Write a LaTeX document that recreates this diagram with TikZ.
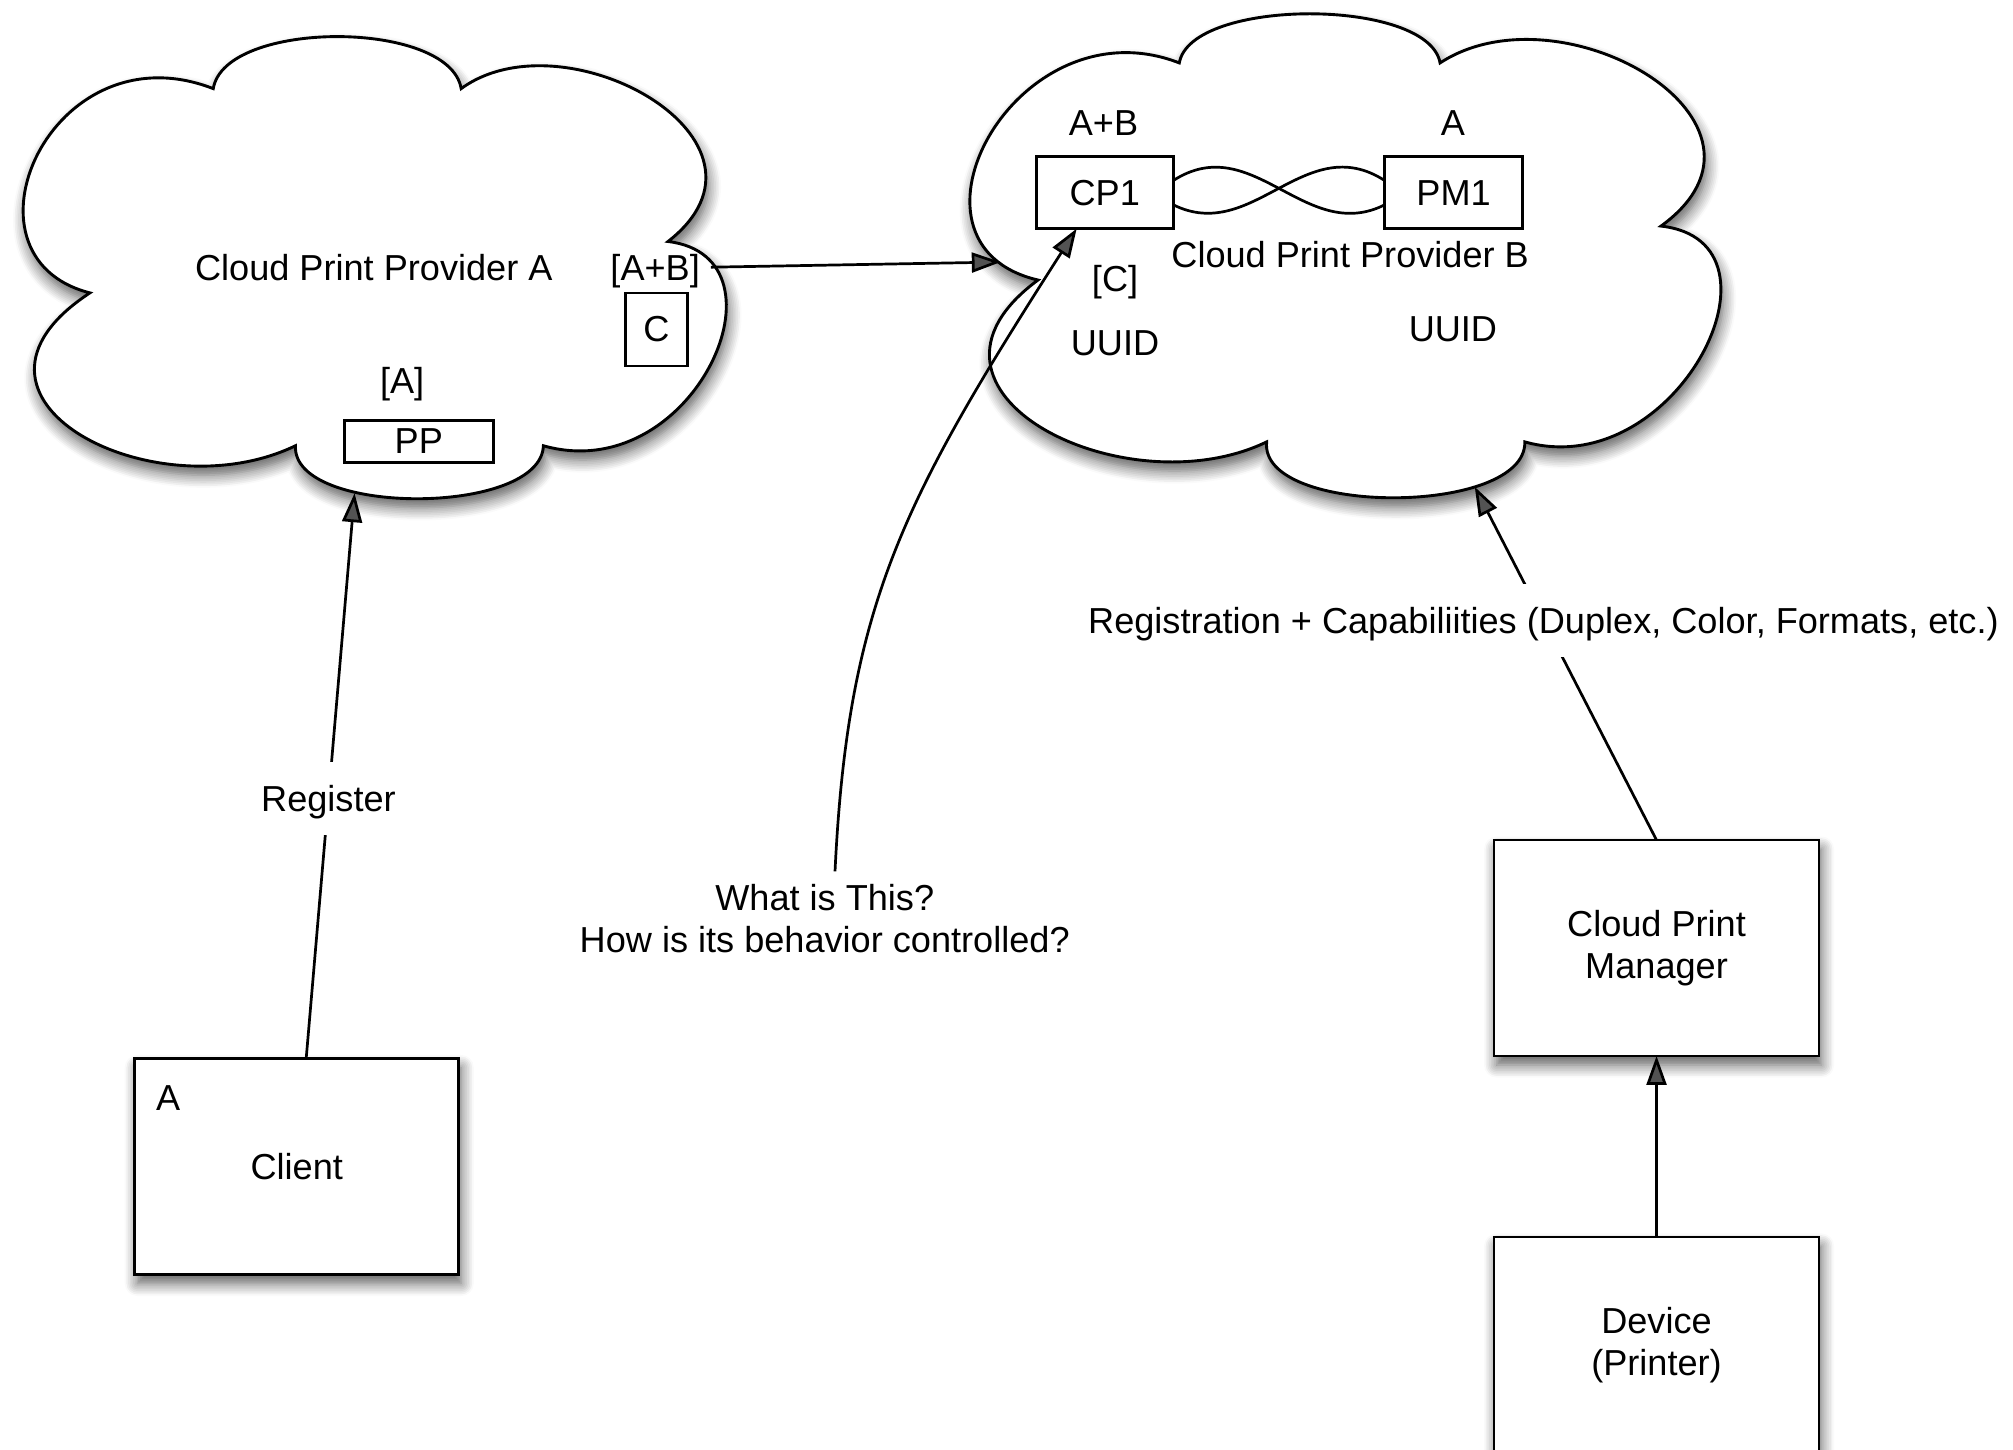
\documentclass[tikz,border=0pt]{standalone}
\usepackage{fontspec}
\setmainfont{Liberation Sans}
\usetikzlibrary{arrows.meta,shadows.blur}

\begin{document}
\begin{tikzpicture}[x=0.0125cm, y=-0.0125cm, font=\fontsize{10}{11.7}\selectfont,
        shadowed/.style={blur shadow={shadow xshift=0.7pt, shadow yshift=-2.5pt, shadow blur radius=3.5pt, shadow blur steps=8, shadow opacity=65}},
        cloudline/.style={draw, fill=white, line width=0.8pt, shadowed},
        box/.style={draw, fill=white, line width=0.75pt, inner sep=0pt, outer sep=0pt},
        lbl/.style={text height=7.2pt, text depth=0pt, inner sep=0pt},
        arr/.style={-{Triangle[length=8pt, width=5.5pt]}, line width=0.75pt}]
        \useasboundingbox (0,0) rectangle (1567,1128);
        \path[cloudline] (70,228) .. controls (-40,200) and (40,20) .. (166,69)
            .. controls (175,15) and (350,15) .. (359,69)
            .. controls (440,10) and (620,110) .. (520,188)
            .. controls (620,200) and (540,380) .. (423,347)
            .. controls (421,402) and (227,402) .. (230,347)
            .. controls (120,400) and (-55,310) .. (70,228) -- cycle;
        \path[cloudline] (808,218) .. controls (688,190) and (792,0) .. (918,49)
            .. controls (927,-2) and (1112,-2) .. (1121,49)
            .. controls (1216,-13) and (1403,96) .. (1293,176)
            .. controls (1400,188) and (1305,377) .. (1187,344)
            .. controls (1188,402) and (980,402) .. (986,344)
            .. controls (876,397) and (690,305) .. (808,218) -- cycle;
        \node[lbl] (provA) at (291,208) {Cloud Print Provider A};
        \node[lbl] (ab) at (510,208) {[A+B]};
        \node[box, minimum width=0.6cm, minimum height=0.71cm] (c) at (511,256.5) {C};
        \node[lbl] (ppLbl) at (313,296) {[A]};
        \node[box, minimum width=1.45cm, minimum height=0.41cm] (pp) at (326,343.5) {PP};
        \node[box, minimum width=1.33cm, minimum height=0.7cm] (cp1) at (860,150) {CP1};
        \node[box, minimum width=1.34cm, minimum height=0.7cm] (pm1) at (1131.5,150) {PM1};
        \node[lbl] (cp1Lbl) at (859,95) {A+B};
        \node[lbl] (pm1Lbl) at (1131,95) {A};
        \node[lbl] (provB) at (1051,198) {Cloud Print Provider B};
        \node[lbl] (cLbl) at (868,217) {[C]};
        \node[lbl] (uuidA) at (868,267) {UUID};
        \node[lbl] (uuidB) at (1131,256) {UUID};
        \node[box, shadowed, minimum width=3.15cm, minimum height=2.1cm] (client) at (231,908) {Client};
        \node[lbl] (clientLbl) at (131,854) {A};
        \node[box, shadowed, minimum width=3.16cm, minimum height=2.1cm, align=center] (cpm) at (1289.5,738) {Cloud Print\\Manager};
        \node[box, shadowed, minimum width=3.16cm, minimum height=2.1cm, align=center] (dev) at (1289.5,1047) {Device\\(Printer)};
        \node[align=center] (what) at (642,715) {What is This?\\How is its behavior controlled?};
        \coordinate (cloudAs) at (276,384);
        \coordinate (cloudBw) at (779,204);
        \coordinate (cloudBs) at (1148,379);
        \draw[line width=0.75pt] (cp1.10) .. controls +(62,-40) and +(-62,31) .. (pm1.190);
        \draw[line width=0.75pt] (cp1.-10) .. controls +(62,31) and +(-62,-40) .. (pm1.170);
        \draw[arr] (client.85) -- node[pos=0.46, lbl, fill=white, inner sep=6.5pt] (reg) {Register} (cloudAs);
        \draw[arr] ([xshift=0.1cm]ab.east) -- (cloudBw);
        \draw[arr] (cpm.north) -- node[pos=0.622, lbl, fill=white, inner sep=6.5pt] (regCap) {Registration + Capabiliities (Duplex, Color, Formats, etc.)} (cloudBs);
        \draw[arr] (dev.north) -- (cpm.south);
        \draw[arr] ([xshift=0.1cm]what.north) .. controls (660,470) and (703,389) .. (cp1.-128);
\end{tikzpicture}
\end{document}
